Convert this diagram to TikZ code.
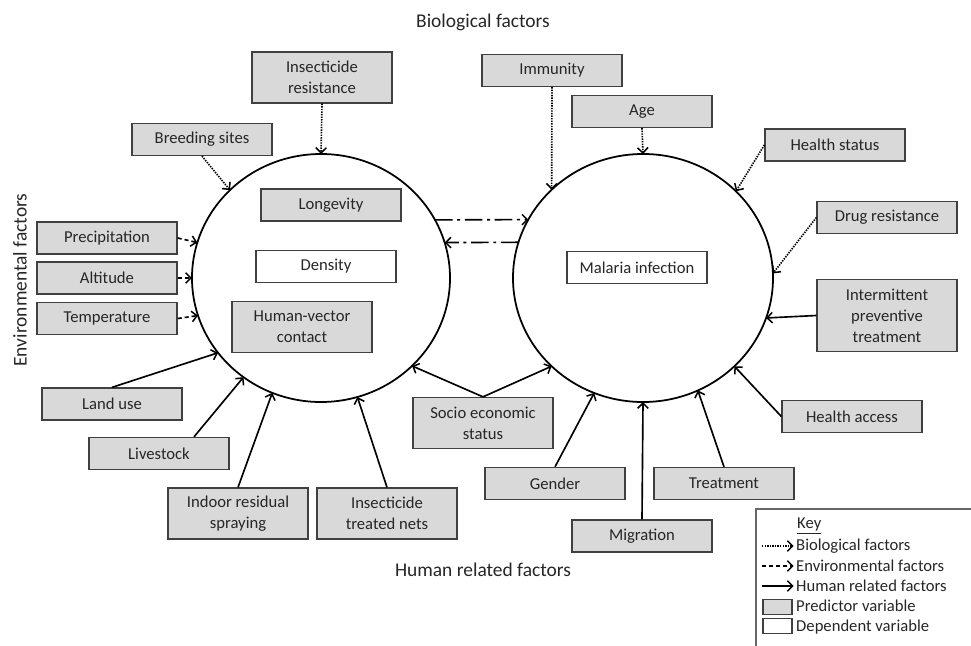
\documentclass[tikz,border=0pt]{standalone}
\usepackage{fontspec}
\setmainfont{Carlito}
\usetikzlibrary{shapes.geometric,arrows.meta}

\tikzset{
  factor/.style={draw=black!75, line width=1.1pt, fill=black!15, text=black!85,
    minimum width=4.2cm, minimum height=0.96cm, inner sep=1pt, align=center,
    font=\fontsize{14.2}{18}\selectfont},
  outcome/.style={factor, fill=white},
  zone/.style={draw, ellipse, line width=1.5pt, inner sep=0pt, outer sep=0pt},
  tip/.style={-{Straight Barb[length=4.5pt,width=9pt,line width=1.3pt]}, line width=1.4pt},
  bio/.style={tip, dash pattern=on 1.2pt off 1pt},
  env/.style={tip, dash pattern=on 3.5pt off 2.5pt},
  hum/.style={tip},
  link/.style={tip, dash pattern=on 15pt off 4pt on 2.5pt off 4pt},
  heading/.style={text=black!85, font=\fontsize{16.6}{20}\selectfont},
  keytext/.style={anchor=west, inner sep=0pt, text=black!85, font=\fontsize{14.2}{18}\selectfont}
}

\begin{document}
\begin{tikzpicture}[x=0.03cm, y=-0.03cm]

% ================================================================
%  Lienzo 971 x 646 px (1 px = 0.03 cm), eje y hacia abajo
% ================================================================
\useasboundingbox (0,0) rectangle (971,646);

% Zonas: vector (izquierda) e infeccion (derecha)
\node[zone, minimum width=7.74cm, minimum height=7.44cm] (vec) at (321,278) {};
\node[zone, minimum width=7.8cm,  minimum height=7.44cm] (mal) at (643,278) {};

% Titulos de grupo
\node[heading] (tbio) at (483,22)  {Biological factors};
\node[heading] (thum) at (483,570) {Human related factors};
\node[heading, rotate=90] (tenv) at (20,280) {Environmental factors};

% Variables dentro de las zonas
\node[factor]  (lon) at (331,205) {Longevity};
\node[outcome] (den) at (326,266.5) {Density};
\node[factor, minimum height=1.53cm] (hvc) at (302,327) {Human-vector\\contact};
\node[outcome] (inf) at (637,267.5) {Malaria infection};

% Factores del vector
\node[factor, minimum height=1.53cm] (ir) at (322,77.5) {Insecticide\\resistance};
\node[factor] (bs)  at (202,139.5) {Breeding sites};
\node[factor] (pre) at (107,238)   {Precipitation};
\node[factor] (alt) at (107,278)   {Altitude};
\node[factor] (tem) at (107,318.5) {Temperature};
\node[factor] (lu)  at (112,404)   {Land use};
\node[factor] (ls)  at (159,453.5) {Livestock};
\node[factor, minimum height=1.53cm] (irs) at (238,513.5) {Indoor residual\\spraying};
\node[factor, minimum height=1.53cm] (itn) at (387,513.5) {Insecticide\\treated nets};
\node[factor, minimum height=1.53cm] (ses) at (483,423) {Socio economic\\status};

% Factores de la infeccion
\node[factor] (imm) at (552,70.5)  {Immunity};
\node[factor] (age) at (642,111.5) {Age};
\node[factor] (hs)  at (835,145)   {Health status};
\node[factor] (dr)  at (887,217.5) {Drug resistance};
\node[factor, minimum height=2.16cm] (ipt) at (887,315.5) {Intermittent\\preventive\\treatment};
\node[factor] (ha)  at (852,416.5) {Health access};
\node[factor] (tre) at (724,483.5) {Treatment};
\node[factor] (mig) at (642,536)   {Migration};
\node[factor] (gen) at (555,483.5) {Gender};

% Flechas hacia la zona del vector
\draw[bio] (ir.south) -- (vec.90);
\draw[bio] (bs.south) -- (vec.136);
\draw[env] (pre.east) -- (vec.164);
\draw[env] (alt.east) -- (vec.180);
\draw[env] (tem.east) -- (vec.197);
\draw[hum] (lu.north) -- (vec.216);
\draw[hum] ([xshift=1.05cm]ls.north) -- (vec.232);
\draw[hum] (irs.north) -- (vec.247);
\draw[hum] (itn.north) -- (vec.287);
\draw[hum] (ses.north) -- (vec.316);

% Flechas hacia la zona de infeccion
\draw[hum] (ses.north) -- (mal.224);
\draw[bio] (imm.south) -- (mal.136);
\draw[bio] (age.south) -- (mal.90);
\draw[bio] (hs.west)   -- (mal.43);
\draw[bio] (dr.west)   -- (mal.2);
\draw[hum] (ipt.west)  -- (mal.342);
\draw[hum] (ha.west)   -- (mal.316);
\draw[hum] (tre.north) -- (mal.296);
\draw[hum] (mig.north) -- (mal.270);
\draw[hum] (gen.north) -- (mal.247);

% Enlace entre zonas
\draw[link] (vec.27)  -- (mal.153);
\draw[link] (mal.164) -- (vec.16);

% ================================================================
%  Leyenda
% ================================================================
\draw[black!60, line width=1.1pt] (756,509) rectangle (985,660);
\node[keytext] (khead) at (797,526) {\underline{Key}};
\node[keytext] (kbio) at (796,546) {Biological factors};
\node[keytext] (kenv) at (796,566) {Environmental factors};
\node[keytext] (khum) at (796,586) {Human related factors};
\node[keytext] (kpre) at (796,606) {Predictor variable};
\node[keytext] (kdep) at (796,627) {Dependent variable};
\coordinate (kb) at (762,546);
\coordinate (ke) at (762,566);
\coordinate (kh) at (762,586);
\draw[bio] (kb) -- ([xshift=-2pt]kbio.west);
\draw[env] (ke) -- ([xshift=-2pt]kenv.west);
\draw[hum] (kh) -- ([xshift=-2pt]khum.west);
\node[factor, minimum width=0.87cm, minimum height=0.45cm] (kbox1) at (777.5,607) {};
\node[outcome, minimum width=0.87cm, minimum height=0.45cm] (kbox2) at (777.5,626) {};

\end{tikzpicture}
\end{document}
